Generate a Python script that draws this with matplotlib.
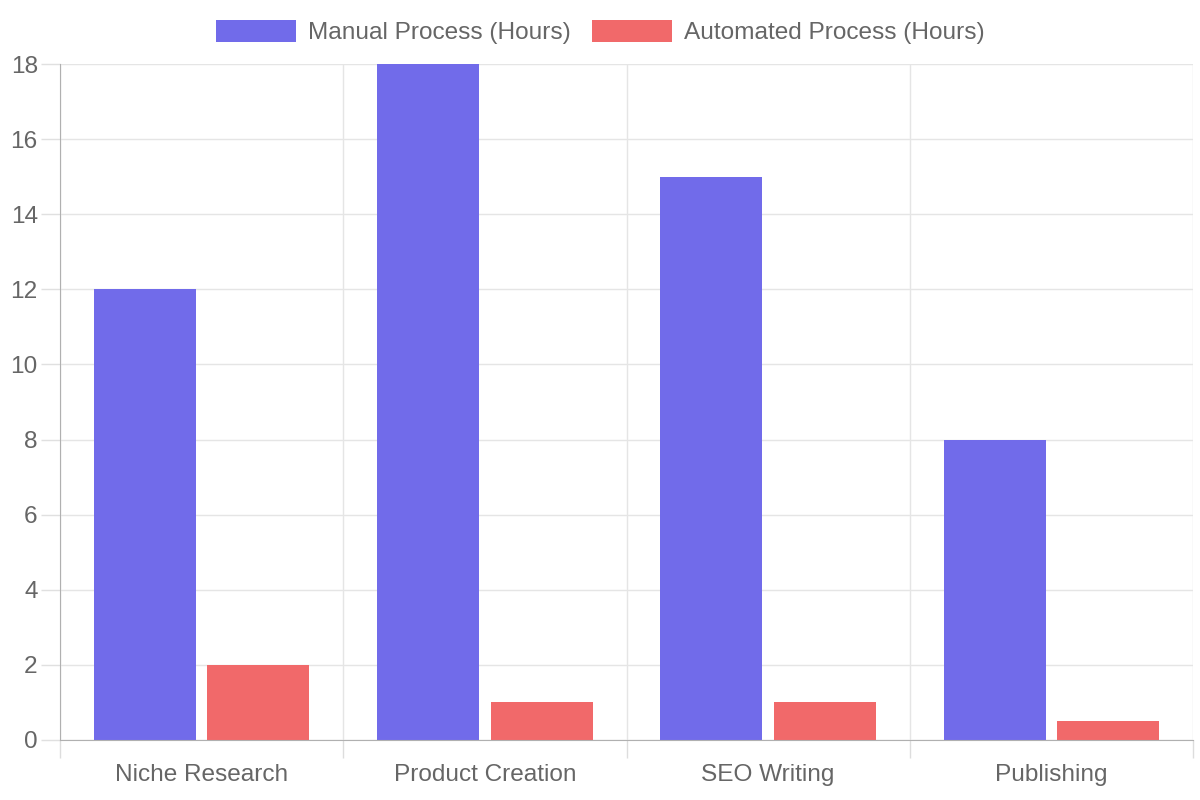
import matplotlib
matplotlib.use("Agg")
import matplotlib.pyplot as plt
import numpy as np

categories = ["Niche Research", "Product Creation", "SEO Writing", "Publishing"]
manual = [12, 18, 15, 8]
automated = [2, 1, 1, 0.5]
series_names = ["Manual Process (Hours)", "Automated Process (Hours)"]
colors = ["#716bea", "#f1696a"]
yticks = [0, 2, 4, 6, 8, 10, 12, 14, 16, 18]

plt.rcParams['font.family'] = ['Liberation Sans', 'DejaVu Sans']
fig = plt.figure(figsize=(12, 8), dpi=100)
ax = fig.add_axes([60/1200, 60/800, (1193-60)/1200, (740-64)/800])

x = np.arange(len(categories))
slot = 0.8 / 2
bw = slot * 0.9
ax.bar(x - slot/2, manual, bw, color=colors[0], label=series_names[0], zorder=3)
ax.bar(x + slot/2, automated, bw, color=colors[1], label=series_names[1], zorder=3)

fs = 17.6
ax.set_xlim(-0.5, len(categories) - 0.5)
ax.set_ylim(0, 18)
ax.set_yticks(yticks)
ax.set_yticklabels([str(v) for v in yticks])
ax.set_xticks(x)
ax.set_xticklabels(categories)
ax.tick_params(axis='x', length=0, pad=17, labelsize=fs, colors='#666666')
ax.tick_params(axis='y', length=14, width=1, color='#e0e0e0', pad=2, labelsize=fs, labelcolor='#666666')
ax.set_xticks(np.arange(len(categories) + 1) - 0.5, minor=True)
ax.tick_params(axis='x', which='minor', length=13, width=1, color='#dddddd')
ax.grid(axis='y', color='#e5e5e5', linewidth=1, zorder=0)
ax.grid(axis='x', which='minor', color='#e5e5e5', linewidth=1, zorder=0)
ax.grid(axis='x', which='major', visible=False)
for s in ['top', 'right']:
    ax.spines[s].set_visible(False)
ax.spines['left'].set_color('#b0b0b0')
ax.spines['bottom'].set_color('#b0b0b0')
ax.spines['left'].set_zorder(4)
ax.spines['bottom'].set_zorder(4)

leg = fig.legend(loc='center', bbox_to_anchor=(0.5, 1.0 - 32/800), ncol=2, frameon=False,
                 fontsize=fs, handlelength=3.27, handleheight=1.0, columnspacing=0.86,
                 handletextpad=0.5, labelcolor='#666666', borderpad=0)

fig.savefig("out.png", dpi=100)
